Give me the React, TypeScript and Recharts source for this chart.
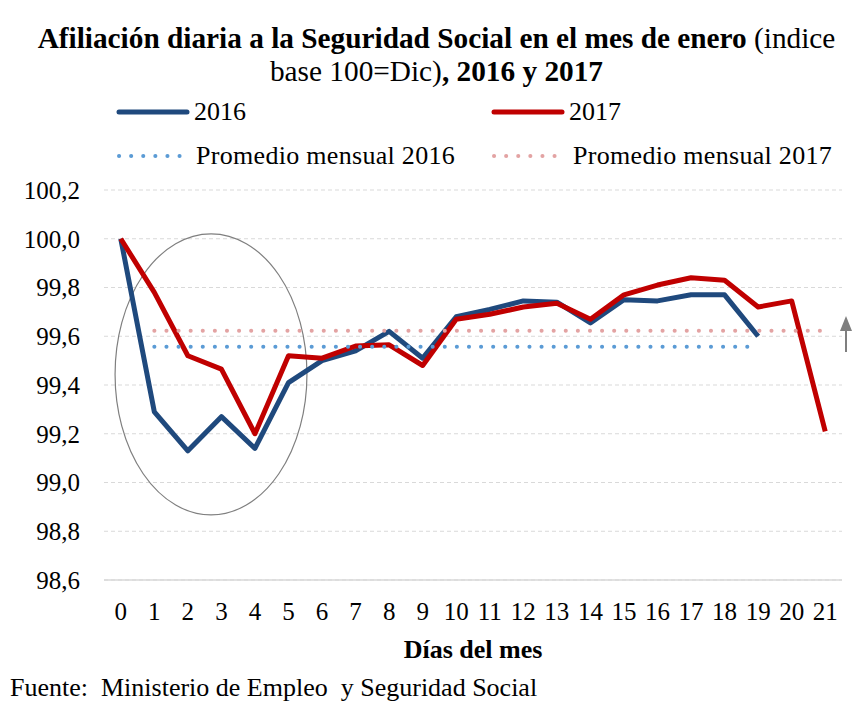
import React from 'react';
import { LineChart, Line, XAxis, YAxis, CartesianGrid, ReferenceArea, Label } from 'recharts';

const dias = [0, 1, 2, 3, 4, 5, 6, 7, 8, 9, 10, 11, 12, 13, 14, 15, 16, 17, 18, 19, 20, 21];
const serie2016 = [100.0, 99.29, 99.13, 99.27, 99.14, 99.41, 99.5, 99.54, 99.62, 99.51, 99.68, 99.71, 99.745, 99.74, 99.655, 99.75, 99.745, 99.77, 99.77, 99.6];
const serie2017 = [100.0, 99.78, 99.52, 99.465, 99.2, 99.52, 99.51, 99.56, 99.565, 99.48, 99.67, 99.69, 99.72, 99.735, 99.67, 99.77, 99.81, 99.84, 99.83, 99.72, 99.745, 99.21];
const promedio2016 = 99.557;
const promedio2017 = 99.623;
const promedioDesde = 1;
const yTicks = [98.6, 98.8, 99.0, 99.2, 99.4, 99.6, 99.8, 100.0, 100.2];
// zona marcada con la elipse (días / índice)
const elipseDias = [-0.17, 5.55];
const elipseIndice = [98.867, 100.02];

const AZUL = '#1F497D';
const ROJO = '#C00000';
const AZUL_PUNTOS = '#5B9BD5';
const ROJO_PUNTOS = '#E3A3A3';
const FONT = '"Liberation Serif", "Times New Roman", serif';

const data = dias.map((d, i) => ({
  dia: d,
  v2016: serie2016[i] ?? null,
  v2017: serie2017[i] ?? null,
  p2016: i >= promedioDesde && i < serie2016.length ? promedio2016 : null,
  p2017: i >= promedioDesde && i < serie2017.length ? promedio2017 : null,
}));

const fmt = (v: number) => v.toFixed(1).replace('.', ',');

const Elipse = (props: any) => {
  const { x, y, width, height } = props;
  return (
    <ellipse
      cx={x + width / 2}
      cy={y + height / 2}
      rx={width / 2}
      ry={height / 2}
      fill="none"
      stroke="#7f7f7f"
      strokeWidth={1.2}
    />
  );
};

const legendItem = (color: string, dotted: boolean) => (
  <svg width={74} height={10} style={{ display: 'block' }}>
    <line
      x1={3}
      x2={dotted ? 69 : 71}
      y1={5}
      y2={5}
      stroke={color}
      strokeWidth={dotted ? 4 : 5}
      strokeLinecap="round"
      strokeDasharray={dotted ? '0.1 12' : undefined}
    />
  </svg>
);

export default function App() {
  const txt: React.CSSProperties = { position: 'absolute', fontFamily: FONT, color: '#000', whiteSpace: 'nowrap' };
  return (
    <div style={{ position: 'absolute', left: 0, top: 0, width: 857, height: 713, background: '#fff', fontFamily: FONT }}>
      <div style={{ ...txt, left: 8, width: 857, top: 22, textAlign: 'center', fontSize: 29.3, lineHeight: '33px' }}>
        <b>Afiliación diaria a la Seguridad Social en el mes de enero</b> (indice
        <br />
        base 100=Dic)<b>, 2016 y 2017</b>
      </div>

      <div style={{ ...txt, left: 116, top: 97, display: 'flex', alignItems: 'center', fontSize: 26 }}>
        {legendItem(AZUL, false)}
        <span style={{ marginLeft: 4 }}>2016</span>
      </div>
      <div style={{ ...txt, left: 491, top: 97, display: 'flex', alignItems: 'center', fontSize: 26 }}>
        {legendItem(ROJO, false)}
        <span style={{ marginLeft: 4 }}>2017</span>
      </div>
      <div style={{ ...txt, left: 116, top: 141, display: 'flex', alignItems: 'center', fontSize: 26 }}>
        {legendItem(AZUL_PUNTOS, true)}
        <span style={{ marginLeft: 6, letterSpacing: 0.3 }}>Promedio mensual 2016</span>
      </div>
      <div style={{ ...txt, left: 491, top: 141, display: 'flex', alignItems: 'center', fontSize: 26 }}>
        {legendItem(ROJO_PUNTOS, true)}
        <span style={{ marginLeft: 8, letterSpacing: 0.3 }}>Promedio mensual 2017</span>
      </div>

      <LineChart
        width={857}
        height={713}
        data={data}
        margin={{ top: 190, right: 15, bottom: 53, left: 0 }}
        style={{ position: 'absolute', left: 0, top: 0 }}
      >
        <CartesianGrid vertical={false} stroke="#D9D9D9" strokeDasharray="4 3" />
        <XAxis
          dataKey="dia"
          type="number"
          domain={[-0.5, 21.5]}
          ticks={dias}
          interval={0}
          height={80}
          axisLine={{ stroke: '#D9D9D9', strokeWidth: 1.5 }}
          tickLine={false}
          tickSize={0}
          tickMargin={22}
          tick={{ fill: '#000', fontSize: 25, fontFamily: FONT }}
        >
          <Label
            value="Días del mes"
            position="insideBottom"
            offset={2}
            style={{ fill: '#000', fontSize: 26, fontWeight: 'bold', fontFamily: FONT }}
          />
        </XAxis>
        <YAxis
          type="number"
          domain={[98.6, 100.2]}
          ticks={yTicks}
          width={104}
          axisLine={false}
          tickLine={false}
          tickSize={0}
          tickMargin={24}
          tickFormatter={fmt}
          tick={{ fill: '#000', fontSize: 25, fontFamily: FONT }}
        />
        <ReferenceArea
          x1={elipseDias[0]}
          x2={elipseDias[1]}
          y1={elipseIndice[0]}
          y2={elipseIndice[1]}
          shape={<Elipse />}
        />
        <Line dataKey="v2016" stroke={AZUL} strokeWidth={5} dot={false} isAnimationActive={false} strokeLinejoin="round" />
        <Line dataKey="v2017" stroke={ROJO} strokeWidth={5} dot={false} isAnimationActive={false} strokeLinejoin="round" />
        <Line
          dataKey="p2016"
          stroke={AZUL_PUNTOS}
          strokeWidth={4}
          strokeDasharray="0.1 12"
          strokeLinecap="round"
          dot={false}
          isAnimationActive={false}
        />
        <Line
          dataKey="p2017"
          stroke={ROJO_PUNTOS}
          strokeWidth={4}
          strokeDasharray="0.1 12"
          strokeLinecap="round"
          dot={false}
          isAnimationActive={false}
        />
      </LineChart>

      <svg width={20} height={50} style={{ position: 'absolute', left: 836, top: 312 }}>
        <line x1={10} y1={14} x2={10} y2={40} stroke="#7f7f7f" strokeWidth={2} />
        <polygon points="10,4 4,19 16,19" fill="#7f7f7f" />
      </svg>

      <div style={{ ...txt, left: 10, top: 673, fontSize: 26 }}>
        Fuente:&nbsp; Ministerio de Empleo&nbsp; y Seguridad Social
      </div>
    </div>
  );
}
